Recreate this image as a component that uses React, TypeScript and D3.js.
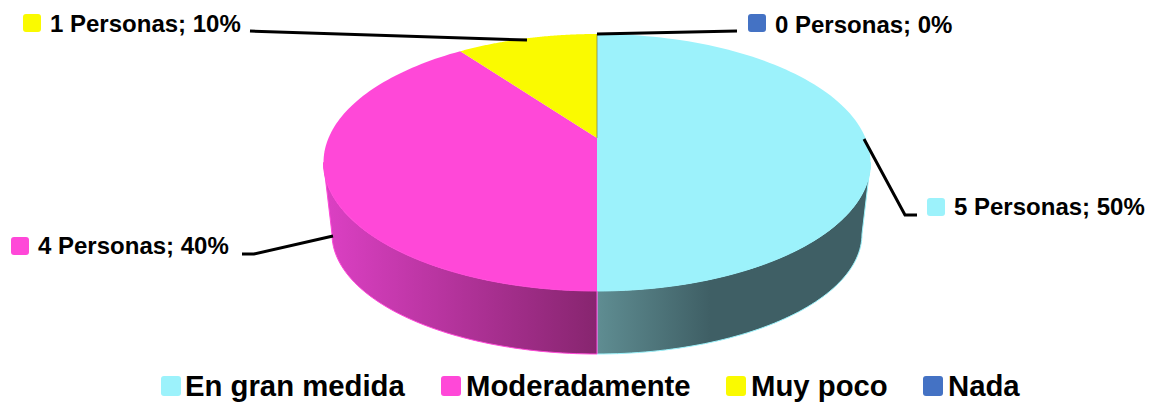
import React from "react";
import * as d3 from "d3";

const categories = ["En gran medida", "Moderadamente", "Muy poco", "Nada"];
const persons = [5, 4, 1, 0];
const percents = [50, 40, 10, 0];
const colors = ["#9CF2FB", "#FF48D8", "#FAFA00", "#4472C4"];
const wallStops = [
  ["#5F8D92", "#3F5F65"],
  ["#DC40C4", "#87256F"],
];

const W = 1155, H = 403;
const top = { cx: 597, cy: 162.5, rx: 273.5, ry: 128.5 };
const bottom = { cx: 597, cy: 234, rx: 265, ry: 120 };
const apexY = 138;
const c = (top.cy - apexY) / top.ry;

const arcs = d3.pie<number>().sort(null).startAngle(0).endAngle(2 * Math.PI)(persons);

// Perspective: where a slice angle lands on the tilted rim, as an ellipse parameter.
const rimParam = (a: number) => {
  const X = Math.sin(a), Y = Math.cos(a);
  const d = 1 + c * Y;
  return Math.atan2((X * Math.sqrt(1 - c * c)) / d, (Y + c) / d);
};
const unwrap = (a: number) => {
  const t = rimParam(a);
  return t < -1e-9 ? t + 2 * Math.PI : a >= 2 * Math.PI - 1e-9 ? 2 * Math.PI : t;
};
const pt = (e: typeof top, a: number): [number, number] => [e.cx + e.rx * Math.sin(a), e.cy - e.ry * Math.cos(a)];
const line = d3.line();

function topPath(a0: number, a1: number) {
  const s = unwrap(a0), t = unwrap(a1);
  const rim = d3.range(0, 121).map((i) => pt(top, s + ((t - s) * i) / 120));
  return line([[top.cx, apexY], ...rim]) + "Z";
}

function wallPath(a0: number, a1: number) {
  const s = Math.max(unwrap(a0), Math.PI / 2);
  const t = Math.min(unwrap(a1), (3 * Math.PI) / 2);
  if (t <= s) return "";
  const angles = d3.range(0, 61).map((i) => s + ((t - s) * i) / 60);
  const upper = angles.map((a) => pt(top, a));
  const lower = angles.slice().reverse().map((a) => pt(bottom, a));
  return line([...upper, ...lower]) + "Z";
}

const labelPos = [
  { x: 954, y: 215, sx: 927, sy: 198 },
  { x: 38, y: 254, sx: 11, sy: 237 },
  { x: 50, y: 32, sx: 23, sy: 14 },
  { x: 775, y: 33, sx: 748, sy: 14 },
];
const leaders = [
  [[864, 139], [905, 215], [917, 215]],
  [[333, 236], [254, 254], [242, 254]],
  [[527, 40], [250, 31]],
  [[597, 34], [737, 31]],
];
const legendPos = [
  { sx: 161, x: 185 },
  { sx: 441, x: 466 },
  { sx: 726, x: 751 },
  { sx: 923, x: 948 },
];
const font = "'Liberation Sans', Arial, sans-serif";

export default function App() {
  return (
    <svg width={W} height={H} style={{ position: "absolute", left: 0, top: 0, background: "#fff" }} fontFamily={font} fontWeight="bold">
      <defs>
        <linearGradient id="w0" gradientUnits="userSpaceOnUse" x1={597} x2={710} y1={0} y2={0}>
          <stop offset="0" stopColor={wallStops[0][0]} />
          <stop offset="1" stopColor={wallStops[0][1]} />
        </linearGradient>
        <linearGradient id="w1" gradientUnits="userSpaceOnUse" x1={324} x2={597} y1={0} y2={0}>
          <stop offset="0" stopColor={wallStops[1][0]} />
          <stop offset="1" stopColor={wallStops[1][1]} />
        </linearGradient>
      </defs>
      {arcs.slice(0, 2).map((d, i) => (
        <path key={i} d={wallPath(d.startAngle, d.endAngle)} fill={`url(#w${i})`} stroke={colors[i]} strokeWidth={1} />
      ))}
      {arcs.map((d, i) => (
        <path key={i} d={topPath(d.startAngle, d.endAngle)} fill={colors[i]} />
      ))}
      <line x1={597} x2={597} y1={top.cy - top.ry} y2={apexY} stroke="#7a7a40" strokeWidth={0.7} />
      {leaders.map((p, i) => (
        <path key={i} d={line(p as [number, number][]) || ""} fill="none" stroke="#000" strokeWidth={3} />
      ))}
      {percents.map((p, i) => (
        <g key={i}>
          <rect x={labelPos[i].sx} y={labelPos[i].sy} width={18} height={18} rx={3} fill={colors[i]} />
          <text x={labelPos[i].x} y={labelPos[i].y} fontSize={24}>{`${persons[i]} Personas; ${p}%`}</text>
        </g>
      ))}
      {categories.map((name, i) => (
        <g key={name}>
          <rect x={legendPos[i].sx} y={376} width={20} height={20} rx={3} fill={colors[i]} />
          <text x={legendPos[i].x} y={396} fontSize={29.3}>{name}</text>
        </g>
      ))}
    </svg>
  );
}
